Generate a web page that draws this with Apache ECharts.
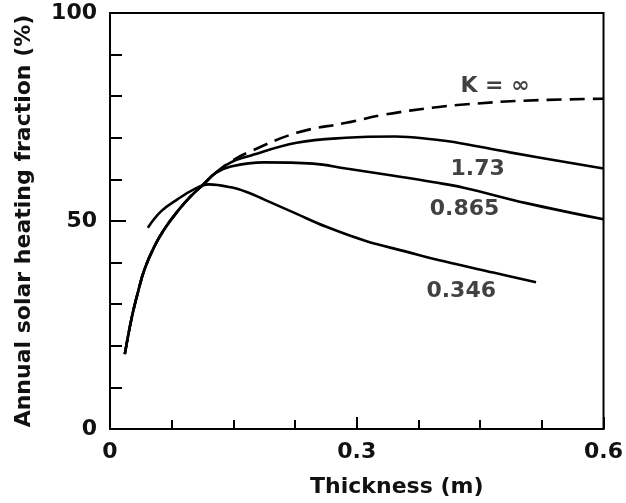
<!DOCTYPE html>
<html>
<head>
<meta charset="utf-8">
<script src="https://cdn.jsdelivr.net/npm/echarts@6/dist/echarts.min.js"></script>
<style>
  html, body { margin: 0; padding: 0; background: #fff; }
  #chart { width: 626px; height: 503px; }
</style>
</head>
<body>
<div id="chart"></div>
<script>
// thickness (m), annual solar heating fraction (%)
const shared = [[0.018, 18.0], [0.026, 26.4], [0.034, 32.9], [0.042, 38.4], [0.054, 43.9], [0.066, 48.0], [0.082, 52.3], [0.098, 55.9], [0.114, 58.9], [0.128, 61.5]]
const kInf = shared.concat([[0.147, 64.3], [0.167, 66.4], [0.227, 71.2], [0.287, 73.6], [0.335, 75.6], [0.394, 77.3], [0.43, 78.0], [0.5, 78.9], [0.6, 79.4]])
const k173 = shared.concat([[0.147, 64.1], [0.167, 65.5], [0.227, 68.8], [0.287, 70.0], [0.347, 70.3], [0.394, 69.6], [0.418, 69.0], [0.486, 66.5], [0.6, 62.6]])
const k0865 = shared.concat([[0.147, 63.1], [0.187, 64.1], [0.247, 63.8], [0.287, 62.6], [0.347, 60.8], [0.394, 59.3], [0.43, 58.0], [0.506, 54.3], [0.6, 50.4]])
const k0346 = [[0.046, 48.4], [0.062, 52.3], [0.082, 55.2], [0.102, 57.6], [0.12, 58.8], [0.147, 58.1], [0.167, 56.9], [0.187, 55.2], [0.227, 51.7], [0.263, 48.6], [0.311, 45.2], [0.359, 42.7], [0.406, 40.3], [0.466, 37.6], [0.518, 35.3]]

const curveLabels = ['K = ∞', '1.73', '0.865', '0.346']
const curveLabelPos = [[0.468, 82.3], [0.447, 62.4], [0.431, 52.8], [0.427, 33.1]]

const font = 'DejaVu Sans'

function curve(data, dashed) {
  return {
    type: 'line',
    data: data,
    smooth: 0.4,
    showSymbol: false,
    silent: true,
    lineStyle: { color: '#000', width: 2.6, type: dashed ? [15, 8] : 'solid' },
  }
}

const textStyle = { fontFamily: font, fontSize: 22, fontWeight: 'bold', color: '#111' }

const chart = echarts.init(document.getElementById('chart'))

chart.setOption({
  animation: false,
  grid: {
    left: 110, right: 14, top: 13, bottom: 73,
    show: true, borderColor: '#000', borderWidth: 2,
  },
  xAxis: {
    type: 'value',
    min: 0, max: 0.6, interval: 0.3,
    name: 'Thickness (m)',
    nameLocation: 'middle',
    nameGap: 47,
    nameTextStyle: { ...textStyle, padding: [0, 0, 0, 80] },
    axisLine: { lineStyle: { color: '#000', width: 2 } },
    axisTick: { inside: true, length: 12, lineStyle: { color: '#000', width: 2 } },
    minorTick: { show: true, splitNumber: 4, length: 9, lineStyle: { color: '#000', width: 2 } },
    axisLabel: { ...textStyle, margin: 12 },
    splitLine: { show: false },
  },
  yAxis: {
    type: 'value',
    min: 0, max: 100, interval: 50,
    name: 'Annual solar heating fraction (%)',
    nameLocation: 'middle',
    nameGap: 75,
    nameTextStyle: textStyle,
    axisLine: { show: true, lineStyle: { color: '#000', width: 2 } },
    axisTick: { show: true, inside: true, length: 16, lineStyle: { color: '#000', width: 2 } },
    minorTick: { show: true, splitNumber: 5, length: 12, lineStyle: { color: '#000', width: 2 } },
    axisLabel: { ...textStyle, margin: 13 },
    splitLine: { show: false },
  },
  series: [
    curve(kInf, true),
    curve(k173, false),
    curve(k0865, false),
    curve(k0346, false),
    {
      type: 'scatter',
      symbolSize: 0,
      silent: true,
      data: curveLabelPos.map((p, i) => ({ value: p, name: curveLabels[i] })),
      label: {
        show: true,
        position: 'inside',
        formatter: (p) => p.name,
        ...textStyle,
      },
    },
  ],
})
</script>
</body>
</html>
